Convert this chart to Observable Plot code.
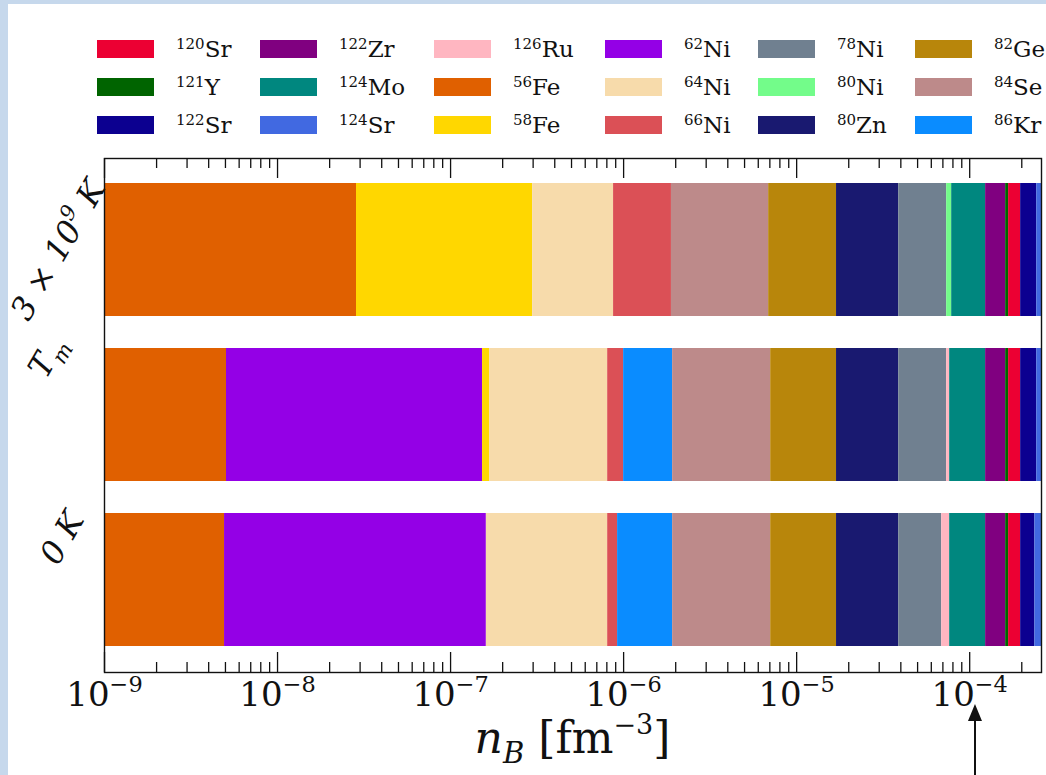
<!DOCTYPE html>
<html>
<head>
<meta charset="utf-8">
<script src="https://cdn.jsdelivr.net/npm/d3@7"></script>
<script src="https://cdn.jsdelivr.net/npm/@observablehq/plot@0.6"></script>
<style>
  html, body { margin: 0; padding: 0; }
  body { width: 1046px; height: 775px; overflow: hidden; position: relative;
         background: #c6d8ec; font-family: "DejaVu Serif", serif; }
  #panel { position: absolute; left: 8px; top: 4px; right: 0; bottom: 0; background: #fff; }
  #chart { position: absolute; left: 0; top: 0; }
  #legend { position: absolute; left: 97px; top: 30px; display: grid; grid-auto-flow: column;
            grid-template-rows: repeat(3, 38px);
            grid-template-columns: 163px 174px 171px 153px 157px 140px; }
  .item { display: flex; align-items: center; }
  .sw { width: 57px; height: 18px; margin-right: 22px; flex: none; }
  .lab { font-size: 23px; line-height: 1; color: #111; white-space: nowrap; }
  .lab sup { font-size: 15px; vertical-align: 8px; line-height: 0; }
  #xtitle { position: absolute; left: 104px; width: 937px; top: 712px; text-align: center;
            font-size: 44px; line-height: 52px; color: #111; white-space: nowrap; }
  #xtitle sub { font-size: 29px; vertical-align: -10px; line-height: 0; }
  #xtitle sup { font-size: 27px; vertical-align: 19px; line-height: 0; }
</style>
</head>
<body>
<div id="panel"></div>
<div id="chart"></div>
<div id="legend"></div>
<div id="xtitle"><i>n</i><sub><i>B</i></sub> [fm<sup>−3</sup>]</div>
<script>
// ---- data ----
const species = ["120Sr","121Y","122Sr","122Zr","124Mo","124Sr","126Ru","56Fe","58Fe",
                 "62Ni","64Ni","66Ni","78Ni","80Ni","80Zn","82Ge","84Se","86Kr"];
const speciesColors = ["#ec0033","#006400","#0c0090","#800080","#00877f","#4169e1","#ffb6c1","#e06000","#ffd700",
                       "#9400e6","#f7dbab","#db5056","#708090","#73fc8a","#191970","#b8860b","#bd8a8a","#0a8cff"];
const temperatures = ["3 × 10^9 K", "T_m", "0 K"];

// layers of each row (in order of increasing density) and their boundaries n_B [fm^-3]
const hotLayers = ["56Fe","58Fe","64Ni","66Ni","84Se","82Ge","80Zn","78Ni","80Ni","124Mo","122Zr","121Y","120Sr","122Sr","124Sr"];
const hotBounds = [1e-9, 2.86e-8, 2.98e-7, 8.75e-7, 1.89e-6, 6.89e-6, 1.70e-5, 3.89e-5, 7.36e-5, 7.87e-5,
                   1.236e-4, 1.614e-4, 1.678e-4, 1.97e-4, 2.44e-4, 2.6e-4];
const meltLayers = ["56Fe","62Ni","58Fe","64Ni","66Ni","86Kr","84Se","82Ge","80Zn","78Ni","126Ru","124Mo","122Zr","121Y","120Sr","122Sr","124Sr"];
const meltBounds = [1e-9, 5.07e-9, 1.53e-7, 1.68e-7, 8.09e-7, 1.0e-6, 1.92e-6, 7.08e-6, 1.70e-5, 3.89e-5, 7.36e-5,
                    7.66e-5, 1.236e-4, 1.614e-4, 1.678e-4, 1.97e-4, 2.44e-4, 2.6e-4];
const coldLayers = ["56Fe","62Ni","64Ni","66Ni","86Kr","84Se","82Ge","80Zn","78Ni","126Ru","124Mo","122Zr","121Y","120Sr","122Sr","124Sr"];
const coldBounds = [1e-9, 4.94e-9, 1.61e-7, 8.09e-7, 9.23e-7, 1.92e-6, 7.08e-6, 1.70e-5, 3.89e-5, 6.89e-5, 7.66e-5,
                    1.236e-4, 1.614e-4, 1.678e-4, 1.97e-4, 2.38e-4, 2.6e-4];

const xDomain = [1e-9, 2.6e-4];
const majorTicks = [1e-9, 1e-8, 1e-7, 1e-6, 1e-5, 1e-4];
const arrowAt = 1.08e-4;

// ---- build table ----
const rows = [[hotLayers, hotBounds], [meltLayers, meltBounds], [coldLayers, coldBounds]];
const table = [];
rows.forEach(([layers, bounds], r) => {
  layers.forEach((s, i) => table.push({temp: temperatures[r], species: s, x1: bounds[i], x2: bounds[i + 1]}));
});
const minorTicks = [];
majorTicks.forEach(m => { for (let k = 2; k <= 9; k++) if (m * k <= xDomain[1]) minorTicks.push(m * k); });

// ---- chart ----
const W = 1046, H = 775, mT = 158, mB = 103, mL = 104, mR = 5;
const frameH = H - mT - mB;
const tickStyle = {x: d => d, stroke: "#111", strokeWidth: 1.3};
const nudges = [[-46, 0], [-57, -58], [-42, -42]];

const plot = Plot.plot({
  width: W, height: H,
  marginTop: mT, marginBottom: mB, marginLeft: mL, marginRight: mR,
  style: {background: "transparent", fontFamily: "DejaVu Serif, serif", color: "#111", overflow: "visible"},
  x: {type: "log", domain: xDomain, axis: null},
  y: {domain: temperatures, paddingInner: 0.193, paddingOuter: 0.145, axis: null},
  color: {domain: species, range: speciesColors},
  marks: [
    Plot.barX(table, {x1: "x1", x2: "x2", y: "temp", fill: "species"}),
    Plot.ruleX(majorTicks, {...tickStyle, insetBottom: frameH - 20}),
    Plot.ruleX(majorTicks, {...tickStyle, insetTop: frameH - 20}),
    Plot.ruleX(minorTicks, {...tickStyle, insetBottom: frameH - 10}),
    Plot.ruleX(minorTicks, {...tickStyle, insetTop: frameH - 10}),
    Plot.frame({stroke: "#111", strokeWidth: 1.4}),
    Plot.text(majorTicks, {x: d => d, frameAnchor: "bottom", dy: 23, lineAnchor: "middle",
      text: d => `10^${Math.round(Math.log10(d))}`, fontSize: 34, fill: "#111"}),
    ...temperatures.map((t, i) => Plot.text([t], {y: d => d, text: d => d, frameAnchor: "left",
      dx: nudges[i][0], dy: nudges[i][1], rotate: -60, textAnchor: "middle", lineAnchor: "middle",
      fontSize: 32, fontStyle: "italic", fill: "#111"}))
  ]
});
document.getElementById("chart").appendChild(plot);

// TeX-like superscripts/subscripts for the axis texts
function texify(el) {
  const sel = d3.select(el);
  const s = sel.text();
  const re = /([\^_])(\{[^}]*\}|[^\s]+)/g;
  if (!/[\^_]/.test(s)) return;
  const base = parseFloat(getComputedStyle(el).fontSize) || 16;
  sel.text(null);
  let offset = 0, last = 0, m;
  const add = (txt, target, size) => {
    if (!txt) return;
    const t = sel.append("tspan").text(txt);
    if (target !== offset) { t.attr("dy", target - offset); offset = target; }
    if (size) t.attr("font-size", size);
  };
  while ((m = re.exec(s))) {
    add(s.slice(last, m.index), 0);
    const body = m[2].replace(/^\{|\}$/g, "").replace(/-/g, "−");
    if (m[1] === "^") add(body, -0.42 * base, 0.66 * base);
    else add(body, 0.25 * base, 0.66 * base);
    last = re.lastIndex;
  }
  add(s.slice(last), 0);
}
d3.select(plot).selectAll("text").each(function() { texify(this); });

// arrow pointing at the marked density
const px = plot.scale("x").apply(arrowAt);
const g = d3.select(plot).append("g");
g.append("line").attr("x1", px).attr("x2", px).attr("y1", H).attr("y2", 716)
  .attr("stroke", "#111").attr("stroke-width", 2);
g.append("path").attr("d", `M${px},704 L${px - 7},721 L${px + 7},721 Z`).attr("fill", "#111");

// ---- legend ----
const legend = d3.select("#legend");
species.forEach((s, i) => {
  const [, mass, el] = s.match(/^(\d+)(.*)$/);
  const item = legend.append("div").attr("class", "item");
  item.append("div").attr("class", "sw").style("background", speciesColors[i]);
  item.append("div").attr("class", "lab").html(`<sup>${mass}</sup>${el}`);
});
</script>
</body>
</html>
